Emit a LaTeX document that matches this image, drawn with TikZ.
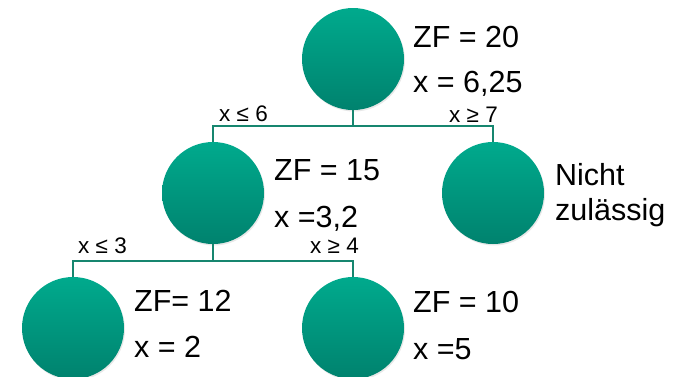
\documentclass[tikz,border=0pt]{standalone}
\usepackage{fontspec}
\setmainfont{Liberation Sans}
\usetikzlibrary{calc, shadows}
\definecolor{tealtop}{RGB}{0,170,141}
\definecolor{tealbot}{RGB}{0,130,110}
\definecolor{tealline}{RGB}{22,134,111}
\tikzset{
  knot/.style  ={circle, minimum size=102pt, inner sep=0pt, top color=tealtop, bottom color=tealbot,
                 drop shadow={opacity=0.18, shadow xshift=1pt, shadow yshift=-1.5pt}},
  info/.style  ={anchor=base west, inner sep=0pt, font=\fontsize{30.5}{36}\selectfont},
  cond/.style  ={inner sep=0pt, font=\fontsize{22.5}{26}\selectfont},
  tedge/.style ={draw=tealline, line width=1.5pt},
}
\begin{document}
\begin{tikzpicture}[x=1pt, y=-1pt]
  \useasboundingbox (0,0) rectangle (673,376);
  % knots
  \node[knot] (k0) at (353,59) {};
  \node[knot] (k1) at (213,193) {};
  \node[knot] (k2) at (493,193) {};
  \node[knot] (k3) at (73,328) {};
  \node[knot] (k4) at (353,328) {};

  % branches
  \draw[tedge] (k0.south) -- ++(0,16) coordinate (j0);
  \draw[tedge] (j0) -| (k1.north); \draw[tedge] (j0) -| (k2.north);
  \draw[tedge] (k1.south) -- ++(0,17) coordinate (j1);
  \draw[tedge] (j1) -| (k3.north); \draw[tedge] (j1) -| (k4.north);

  % conditions
  \node[cond, anchor=base west] (c1) at (219,121) {x ≤ 6};
  \node[cond, anchor=base east] (c2) at (498,122) {x ≥ 7};
  \node[cond, anchor=base west] (c3) at (78,253) {x ≤ 3};
  \node[cond, anchor=base east] (c4) at (359,253) {x ≥ 4};

  % values
  \node[info] (v0a) at (413,47) {ZF = 20}; \node[info] (v0b) at (413,92) {x = 6,25};
  \node[info] (v1a) at (274,180) {ZF = 15}; \node[info] (v1b) at (274,227) {x =3,2};
  \node[info] (v2a) at (555,185) {Nicht}; \node[info] (v2b) at (555,220) {zulässig};
  \node[info] (v3a) at (134,311) {ZF= 12}; \node[info] (v3b) at (134,357) {x = 2};
  \node[info] (v4a) at (413,312) {ZF = 10}; \node[info] (v4b) at (413,359) {x =5};
\end{tikzpicture}
\end{document}
